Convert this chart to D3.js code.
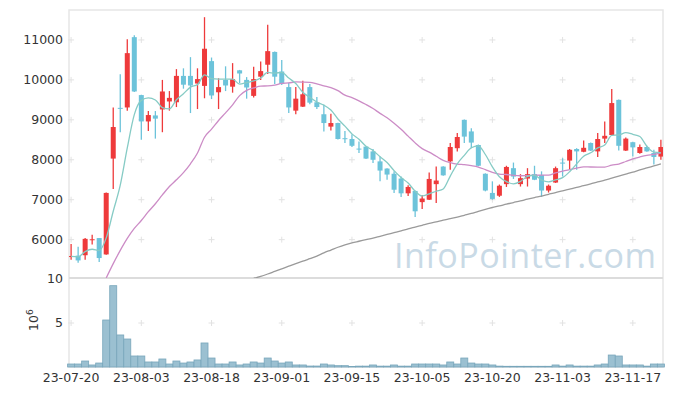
<!DOCTYPE html>
<html>
<head>
<meta charset="utf-8">
<script src="https://cdn.jsdelivr.net/npm/d3@7/dist/d3.min.js"></script>
<style>
  body { margin: 0; background: #fff; }
  svg { display: block; font-family: "DejaVu Sans", sans-serif; }
</style>
</head>
<body>
<div id="chart"></div>
<script>
const dates = [
  '23-07-20','23-07-21','23-07-24','23-07-25','23-07-26','23-07-27','23-07-28','23-07-31',
  '23-08-01','23-08-02','23-08-03','23-08-04','23-08-07','23-08-08','23-08-09','23-08-10','23-08-11',
  '23-08-14','23-08-16','23-08-17','23-08-18','23-08-21','23-08-22','23-08-23','23-08-24','23-08-25',
  '23-08-28','23-08-29','23-08-30','23-08-31','23-09-01','23-09-04','23-09-05','23-09-06','23-09-07',
  '23-09-08','23-09-11','23-09-12','23-09-13','23-09-14','23-09-15','23-09-18','23-09-19','23-09-20',
  '23-09-21','23-09-22','23-09-25','23-09-26','23-09-27','23-10-04','23-10-05','23-10-06','23-10-10',
  '23-10-11','23-10-12','23-10-13','23-10-16','23-10-17','23-10-18','23-10-19','23-10-20','23-10-23',
  '23-10-24','23-10-25','23-10-26','23-10-27','23-10-30','23-10-31','23-11-01','23-11-02','23-11-03',
  '23-11-06','23-11-07','23-11-08','23-11-09','23-11-10','23-11-13','23-11-14','23-11-15','23-11-16',
  '23-11-17','23-11-20','23-11-21','23-11-22','23-11-23'
];

const open = [
  5570,5600,5610,5990,6040,5630,8030,9300,9310,11070,
  9620,8960,9110,9260,9460,9440,10100,10100,9910,9850,
  10470,9690,10000,9830,10240,10000,9600,10080,10380,10700,
  10210,9820,9230,9330,9820,9440,9140,8830,8920,8540,
  8520,8280,8330,8210,7960,7780,7650,7530,7160,7220,
  6940,7000,7390,7830,7960,8290,9000,8710,8370,7650,
  7170,7100,7390,7790,7390,7530,7640,7620,7230,7430,
  7930,7980,8270,8200,8420,8210,8530,8620,9500,8230,
  8440,8170,8320,8170,8080
];
const high = [
  5890,5820,6040,6120,6040,7180,9310,10140,11020,11120,
  9630,9220,9220,10000,9720,10270,10290,10570,10290,11570,
  10560,10040,10340,10420,10250,10070,10330,10460,11380,10710,
  10500,9930,9820,9980,9900,9570,9380,9150,8930,8720,
  8640,8460,8340,8270,8080,7790,7710,7580,7360,7230,
  7120,7680,7830,7840,8420,8670,9010,8790,8380,7660,
  7460,7380,7850,7930,7640,7790,7850,7710,7380,7830,
  8040,8270,8290,8480,8430,8670,8960,9770,9510,8560,
  8450,8380,8350,8250,8500
];
const low = [
  5500,5420,5500,5880,5440,5620,7270,8690,9230,9700,
  8500,8720,8530,8690,9230,9320,9780,9170,9270,9540,
  9520,9270,9720,9680,9920,9530,9560,10000,10150,9900,
  9870,9170,9140,9320,9390,9270,8710,8730,8510,8420,
  8320,8170,8020,7920,7460,7500,7170,7070,7090,6570,
  6770,6990,6920,7600,7750,8210,8420,8290,7840,7210,
  7000,7070,7320,7520,7330,7330,7490,7070,7180,7420,
  7580,7750,7750,8190,8220,8070,8420,8610,8230,8220,
  8080,8150,8200,7880,8000
];
const close = [
  5590,5480,6020,6010,5540,7170,8820,9280,10670,9710,
  8960,9120,9030,9710,9550,10100,9880,9860,10020,10780,
  9610,9820,9860,10020,10160,9810,10020,10220,10720,10080,
  9900,9310,9530,9640,9430,9320,8920,8920,8520,8530,
  8350,8260,8030,8000,7730,7630,7250,7160,7320,6710,
  7030,7520,7480,7610,8320,8570,8580,8430,7850,7230,
  7020,7350,7820,7580,7540,7640,7500,7230,7350,7790,
  7910,8250,8210,8300,8230,8520,8600,9420,8350,8530,
  8310,8320,8210,8070,8320
];
// volume, millions of shares
const volume = [
  0.34,0.34,0.68,0.23,0.45,5.34,9.24,3.64,3.18,1.25,
  1.25,0.57,0.57,0.91,0.34,0.68,0.45,0.57,0.8,2.73,
  1.02,0.34,0.34,0.57,0.23,0.34,0.57,0.45,1.02,0.68,
  0.45,0.57,0.23,0.23,0.11,0.11,0.34,0.23,0.15,0.15,
  0.05,0.1,0.1,0.23,0.1,0.1,0.23,0.1,0.1,0.34,
  0.34,0.34,0.34,0.23,0.57,0.34,1.02,0.45,0.34,0.34,
  0.23,0.1,0.08,0.08,0.08,0.08,0.08,0.08,0.08,0.23,
  0.1,0.23,0.1,0.1,0.1,0.23,0.34,1.36,1.25,0.23,
  0.23,0.23,0.1,0.34,0.34
];
// moving average lines as drawn in the chart
const ma5 = [
  5580,5570,5700,5760,5728,6044,6712,7364,8296,9130,
  9488,9548,9498,9306,9274,9502,9654,9820,9882,10128,
  10030,10018,10018,10018,9894,9934,9974,10046,10186,10170,
  10188,10046,9908,9692,9562,9446,9368,9246,9022,8842,
  8648,8516,8338,8234,8074,7930,7728,7554,7418,7214,
  7094,7148,7212,7270,7592,7900,8112,8302,8350,8132,
  7822,7576,7454,7396,7458,7582,7612,7494,7448,7498,
  7552,7702,7898,8088,8176,8298,8368,8610,8620,8680,
  8638,8582,8340,8190,8180
];
const ma20 = [
  null,null,null,null,null,5040,5400,5730,6030,6280,
  6480,6700,6900,7120,7330,7500,7680,7900,8170,8565,
  8766,8983,9175,9376,9607,9739,9799,9846,9848,9867,
  9914,9923,9948,9945,9939,9900,9852,9805,9730,9617,
  9554,9476,9385,9284,9162,9053,8915,8762,8592,8423,
  8280,8190,8088,7986,7931,7893,7876,7852,7818,7753,
  7687,7641,7631,7610,7600,7601,7613,7617,7618,7672,
  7716,7753,7789,7824,7819,7817,7818,7867,7892,7957,
  8022,8070,8110,8134,8173
];
const ma60 = [
  null,null,null,null,null,null,null,null,null,null,
  null,null,null,null,null,null,null,null,null,null,
  null,null,null,null,null,null,5030,5080,5140,5205,
  5270,5335,5400,5460,5525,5590,5670,5740,5810,5870,
  5920,5960,6000,6040,6085,6130,6175,6220,6270,6315,
  6360,6405,6445,6490,6525,6565,6610,6655,6710,6760,
  6805,6845,6890,6930,6970,7015,7055,7090,7135,7180,
  7220,7265,7310,7350,7395,7445,7490,7540,7590,7640,
  7690,7745,7795,7845,7895
];
const priceTicks = [6000, 7000, 8000, 9000, 10000, 11000];
const volumeTicks = [5, 10];

const width = 673, height = 396;
const plotLeft = 69, plotRight = 663, plotTop = 10, plotMid = 278, plotBottom = 367;
const upColor = '#ee3a3b', downColor = '#6cc3da';

const svg = d3.select('#chart').append('svg')
  .attr('width', width)
  .attr('height', height);

const idx = d3.range(dates.length);
const x = d3.scaleLinear().domain([-0.3, dates.length - 0.7]).range([plotLeft, plotRight]);
const y = d3.scaleLinear().domain([5040, 11750]).range([plotMid, plotTop]);
const yv = d3.scaleLinear().domain([0, 10]).range([plotBottom, plotMid + 1]);
const tickIdx = idx.filter(i => i % 10 === 0);

svg.append('clipPath').attr('id', 'clip-price')
  .append('rect').attr('x', plotLeft).attr('y', plotTop)
  .attr('width', plotRight - plotLeft).attr('height', plotMid - plotTop);

// panel frames
svg.append('rect')
  .attr('x', plotLeft).attr('y', plotTop)
  .attr('width', plotRight - plotLeft).attr('height', plotBottom - plotTop)
  .attr('fill', 'none').attr('stroke', '#e6e6e6').attr('stroke-width', 1.5);
svg.append('line')
  .attr('x1', plotLeft).attr('x2', plotRight).attr('y1', plotMid).attr('y2', plotMid)
  .attr('stroke', '#dcdcdc').attr('stroke-width', 2);

// grid crosses
const crosses = [];
tickIdx.forEach(i => {
  priceTicks.forEach(p => crosses.push([x(i), y(p)]));
  crosses.push([x(i), yv(5)]);
});
svg.append('g')
  .selectAll('path')
  .data(crosses)
  .join('path')
  .attr('d', d => `M${d[0] - 3},${d[1]}h6M${d[0]},${d[1] - 3}v6`)
  .attr('stroke', '#e2e2e2')
  .attr('stroke-width', 1);

// watermark
svg.append('text')
  .attr('x', 656).attr('y', 268)
  .attr('text-anchor', 'end')
  .attr('font-family', '"Open Sans", sans-serif')
  .attr('font-size', 34)
  .attr('textLength', 262)
  .attr('fill', '#c9dae6')
  .text('InfoPointer.com');

// candles
const candles = svg.append('g').attr('clip-path', 'url(#clip-price)')
  .selectAll('g')
  .data(idx)
  .join('g')
  .attr('fill', i => close[i] >= open[i] ? upColor : downColor)
  .attr('stroke', i => close[i] >= open[i] ? upColor : downColor);

candles.append('line')
  .attr('x1', i => x(i)).attr('x2', i => x(i))
  .attr('y1', i => y(high[i])).attr('y2', i => y(low[i]))
  .attr('stroke-width', 1.3);

candles.append('rect')
  .attr('x', i => x(i) - 2.5)
  .attr('y', i => y(Math.max(open[i], close[i])))
  .attr('width', 5)
  .attr('height', i => Math.max(1, Math.abs(y(open[i]) - y(close[i]))))
  .attr('stroke', 'none');

// moving averages
const lineFor = series => d3.line()
  .defined(i => series[i] != null)
  .x(i => x(i))
  .y(i => y(series[i]))
  .curve(d3.curveMonotoneX);

[[ma60, '#9a9a9a'], [ma20, '#cc8cc6'], [ma5, '#86cbc5']].forEach(([series, color]) => {
  svg.append('path')
    .attr('clip-path', 'url(#clip-price)')
    .attr('d', lineFor(series)(idx))
    .attr('fill', 'none')
    .attr('stroke', color)
    .attr('stroke-width', 1.3);
});

// volume bars
svg.append('g')
  .selectAll('rect')
  .data(idx)
  .join('rect')
  .attr('x', i => x(i) - 3.5)
  .attr('y', i => yv(volume[i]))
  .attr('width', 7)
  .attr('height', i => plotBottom - yv(volume[i]))
  .attr('fill', '#9bc0d1')
  .attr('stroke', '#78a6bb')
  .attr('stroke-width', 0.8);

// axis labels
svg.append('g')
  .selectAll('text')
  .data(priceTicks)
  .join('text')
  .attr('x', 63).attr('y', d => y(d))
  .attr('dy', '0.35em')
  .attr('text-anchor', 'end')
  .attr('font-size', 12.5)
  .attr('fill', '#333')
  .text(d => d);

svg.append('g')
  .selectAll('text')
  .data(volumeTicks)
  .join('text')
  .attr('x', 63).attr('y', d => yv(d))
  .attr('dy', '0.35em')
  .attr('text-anchor', 'end')
  .attr('font-size', 12.5)
  .attr('fill', '#333')
  .text(d => d);

svg.append('g')
  .selectAll('text')
  .data(tickIdx)
  .join('text')
  .attr('x', i => x(i)).attr('y', 378)
  .attr('dy', '0.35em')
  .attr('text-anchor', 'middle')
  .attr('font-size', 12.5)
  .attr('fill', '#333')
  .text(i => dates[i]);

const unit = svg.append('text')
  .attr('transform', 'translate(38,331) rotate(-90)')
  .attr('font-size', 12.5)
  .attr('fill', '#333');
unit.append('tspan').text('10');
unit.append('tspan').attr('dy', -5).attr('font-size', 9).text('6');
</script>
</body>
</html>
